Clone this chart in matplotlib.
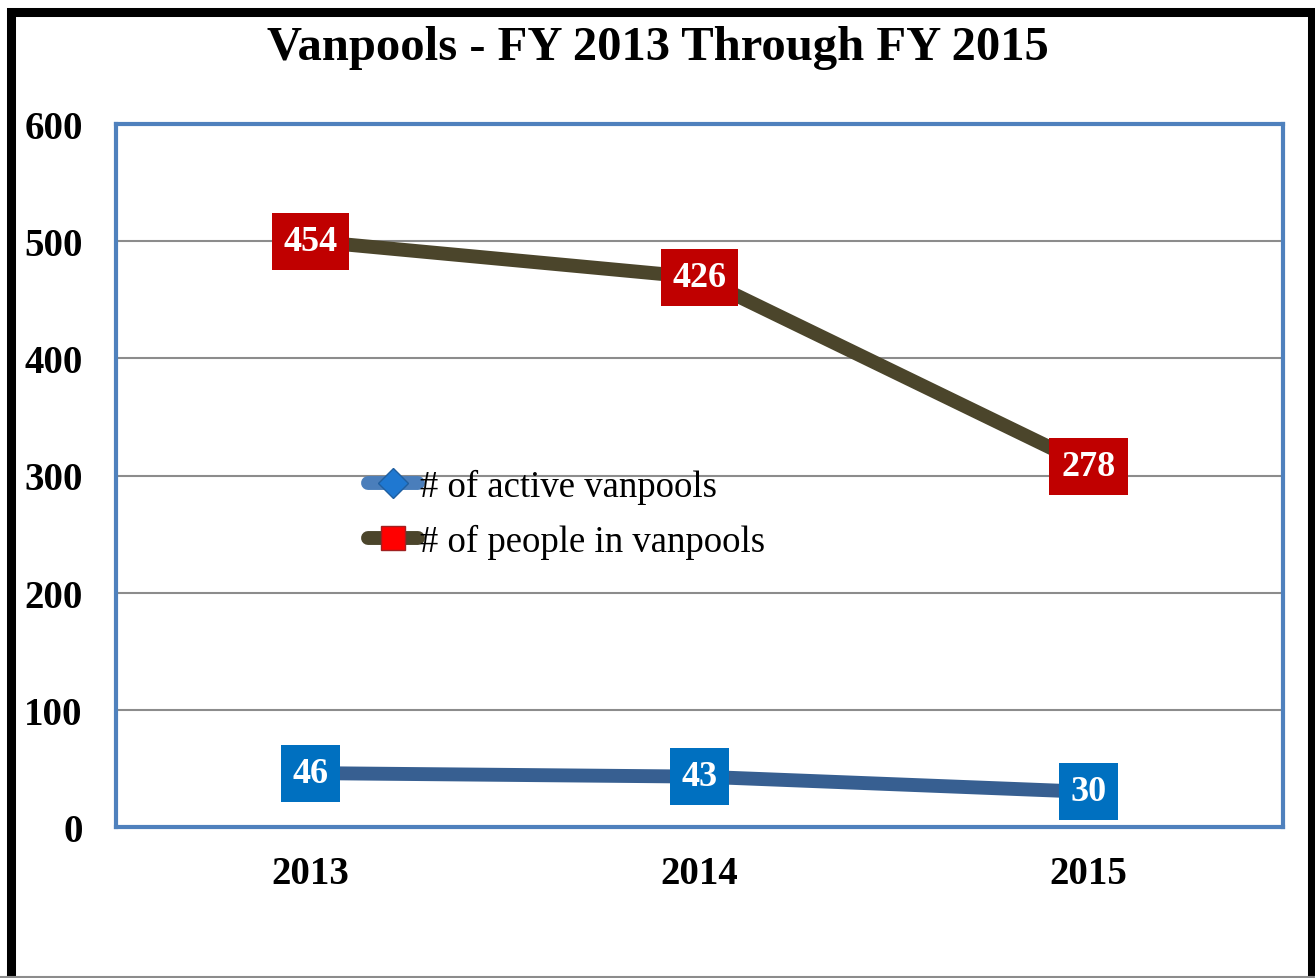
import matplotlib
matplotlib.use('Agg')
import matplotlib.pyplot as plt
from matplotlib.lines import Line2D
from matplotlib.patches import Rectangle
import numpy as np

plt.rcParams['font.family'] = ['Liberation Serif', 'DejaVu Serif']

# data
years = ['2013', '2014', '2015']
active = [46, 43, 30]
people = [454, 426, 278]
# chart is a stacked line chart: people line sits on top of active line
people_stacked = list(np.array(active) + np.array(people))

fig = plt.figure(figsize=(13.15, 9.79), dpi=100)
ax = fig.add_axes([116/1315, 1-828/979, (1283-116)/1315, (828-125)/979])

x = np.arange(len(years))
ax.plot(x, active, color='#375F91', lw=10, solid_capstyle='butt', zorder=3,
        marker='D', ms=14, mfc='#1F78D1', mec='#1F5FA0')
ax.plot(x, people_stacked, color='#4B452B', lw=10, solid_capstyle='butt', zorder=3,
        marker='s', ms=16, mfc='#FF0000', mec='#A02020')

# data labels
for xi, yi, v in zip(x, active, active):
    ax.text(xi, yi, str(v), ha='center', va='center', color='white',
            fontsize=26, fontweight='bold', zorder=5,
            bbox=dict(boxstyle='square,pad=0.33', fc='#0070C0', ec='none'))
for xi, yi, v in zip(x, people_stacked, people):
    ax.text(xi, yi, str(v), ha='center', va='center', color='white',
            fontsize=26, fontweight='bold', zorder=5,
            bbox=dict(boxstyle='square,pad=0.33', fc='#C00000', ec='none'))

ax.set_xlim(-0.5, 2.5)
ax.set_ylim(0, 600)
ax.set_yticks(range(0, 601, 100))
ax.set_xticks(x)
ax.set_xticklabels(years)
ax.tick_params(length=0, labelsize=28)
ax.tick_params(axis='y', pad=24)
ax.tick_params(axis='x', pad=20)
for lab in ax.get_xticklabels() + ax.get_yticklabels():
    lab.set_fontweight('bold')
ax.grid(axis='y', color='#8C8C8C', lw=1.5, zorder=1)
for s in ax.spines.values():
    s.set_color('#4F81BD')
    s.set_linewidth(3)

# legend
handles = [Line2D([0], [0], color='#4A7EBB', lw=10, solid_capstyle='round',
                  marker='D', ms=15, mfc='#1F78D1', mec='#1F5FA0'),
           Line2D([0], [0], color='#4B452B', lw=10, solid_capstyle='round',
                  marker='s', ms=17, mfc='#FF0000', mec='#A02020')]
fig.legend(handles, ['# of active vanpools', '# of people in vanpools'],
           loc='center left', bbox_to_anchor=(350/1315, 1-515/979), frameon=False,
           fontsize=26.5, handlelength=1.35, handletextpad=0.05, labelspacing=0.55,
           borderpad=0)

fig.text(0.5, 1-48/979, 'Vanpools - FY 2013 Through FY 2015', ha='center', va='center',
         fontsize=35, fontweight='bold')

# outer border
fig.patches.append(Rectangle((10.5/1315, -0.05), (1312-10.5)/1315, 1.05-12.5/979,
                             transform=fig.transFigure, fill=False, ec='black', lw=6.5))
fig.add_artist(Line2D([0, 1], [1/979, 1/979], transform=fig.transFigure, color='#8C8C8C', lw=1.5))

fig.savefig('out.png', dpi=100)
